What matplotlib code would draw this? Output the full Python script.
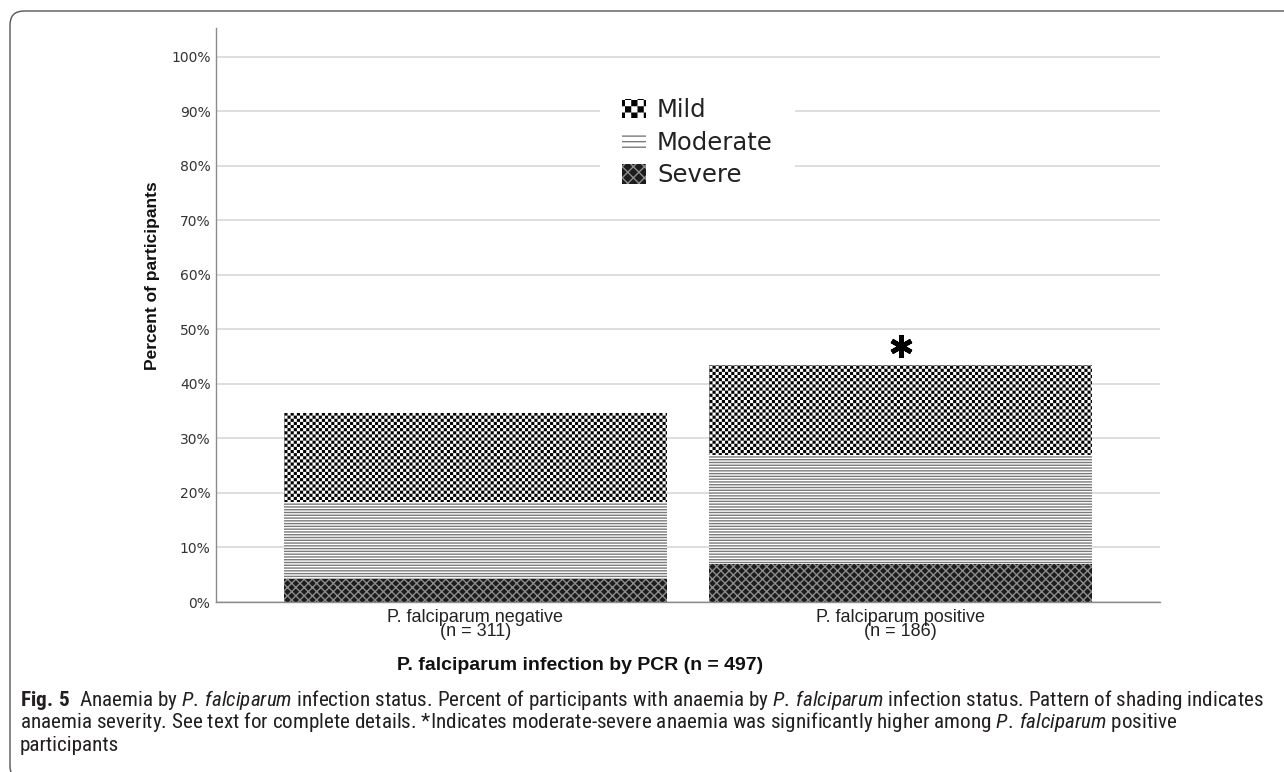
import matplotlib

matplotlib.use("Agg")
import matplotlib.hatch as mhatch
import matplotlib.pyplot as plt
import numpy as np
from matplotlib import font_manager
from matplotlib.patches import FancyBboxPatch, Patch
from matplotlib.path import Path
from matplotlib.transforms import IdentityTransform

# --- data (percent of participants) ------------------------------------------
groups = ["P. falciparum negative\n(n = 311)", "P. falciparum positive\n(n = 186)"]
severe = [4.2, 7.0]
moderate = [14.1, 19.9]
mild = [16.4, 16.6]
legend_labels = ["Mild", "Moderate", "Severe"]
yticks = list(range(0, 101, 10))
star_group = 1  # moderate-severe significantly higher here

W, H = 1284, 772
HATCH_LW = 1.0


def pick(*names):
    avail = {f.name for f in font_manager.fontManager.ttflist}
    for n in names:
        if n in avail:
            return n
    return "DejaVu Sans"


CAPTION_FONT = pick("Liberation Sans Narrow", "DejaVu Sans Condensed", "Roboto Condensed")
ARIAL = pick("Liberation Sans", "Arial")


class CheckerHatch(mhatch.HatchPatternBase):
    """'*' re-used as a checkerboard: 8 cells per inch for each '*'."""

    def __init__(self, hatch, density):
        self.n = hatch.count("*") * 8
        self.num_vertices = (self.n * self.n // 2) * 5

    def set_vertices_and_codes(self, vertices, codes):
        n = self.n
        step = 1.0 / n
        inset = 0.5 * HATCH_LW / 72.0
        ii, jj = np.meshgrid(np.arange(n), np.arange(n), indexing="ij")
        mask = (ii + jj) % 2 == 0
        ll = np.stack([ii[mask] * step + inset, jj[mask] * step + inset], axis=1)
        sq = np.array([[0, 0], [1, 0], [1, 1], [0, 1], [0, 0]], dtype=float)
        verts = ll[:, None, :] + sq[None] * (step - 2 * inset)
        vertices[:] = verts.reshape(-1, 2)
        one = [Path.MOVETO, Path.LINETO, Path.LINETO, Path.LINETO, Path.CLOSEPOLY]
        codes[:] = np.tile(one, len(ll))


mhatch._hatch_types = [t for t in mhatch._hatch_types if t is not mhatch.Stars] + [CheckerHatch]

plt.rcParams["hatch.linewidth"] = HATCH_LW
plt.rcParams["mathtext.fontset"] = "custom"
plt.rcParams["mathtext.rm"] = CAPTION_FONT
plt.rcParams["mathtext.it"] = f"{CAPTION_FONT}:italic"
plt.rcParams["mathtext.bf"] = f"{CAPTION_FONT}:bold"

styles = {
    "Severe": dict(facecolor="#1c1c1c", edgecolor="#8c8c8c", hatch="xxxx"),
    "Moderate": dict(facecolor="white", edgecolor="#7a7a7a", hatch="------"),
    "Mild": dict(facecolor="white", edgecolor="black", hatch="****"),
}
legend_hatch = {"Severe": "xxx", "Moderate": "---", "Mild": "**"}

fig = plt.figure(figsize=(W / 100, H / 100), dpi=100)
ax = fig.add_axes([216 / W, (H - 602) / H, (1160 - 216) / W, (602 - 28) / H])

x = np.arange(len(groups))
bottom = np.zeros(len(groups))
for name, vals in [("Severe", severe), ("Moderate", moderate), ("Mild", mild)]:
    ax.bar(x, vals, width=0.9, bottom=bottom, linewidth=0, **styles[name], zorder=2)
    bottom = bottom + np.array(vals)

ax.plot(star_group, bottom[star_group] + 3.4, marker=(6, 2, 0), markersize=16,
        markeredgewidth=3.4, color="black", linestyle="none", zorder=3)

ax.set_xlim(-0.61, 1.61)
ax.set_ylim(0, 105.3)
ax.set_yticks(yticks)
ax.set_yticklabels([f"{v}%" for v in yticks], fontsize=10, color="#333333",
                   fontfamily="DejaVu Sans")
ax.set_xticks(x)
ax.set_xticklabels(groups, fontsize=13, fontfamily=ARIAL, color="#222222",
                   linespacing=0.8)
ax.tick_params(length=0, pad=4)
ax.tick_params(axis="x", pad=5)
ax.yaxis.grid(True, color="#d4d4d4", linewidth=1.1, zorder=0)
ax.set_axisbelow(True)
for side in ("top", "right"):
    ax.spines[side].set_visible(False)
for side in ("left", "bottom"):
    ax.spines[side].set_color("#8c8c8c")
    ax.spines[side].set_linewidth(1.0)

fig.text(152 / W, 1 - 276 / H, "Percent of participants", rotation=90,
         ha="center", va="center", fontsize=12.5, fontweight="bold",
         fontfamily=ARIAL, color="#111111")
fig.text(580 / W, 1 - 665 / H, "P. falciparum infection by PCR (n = 497)",
         ha="center", va="center", fontsize=14, fontweight="bold",
         fontfamily=ARIAL, color="#111111")

handles = [Patch(facecolor=styles[n]["facecolor"], edgecolor=styles[n]["edgecolor"],
                 hatch=legend_hatch[n], linewidth=0) for n in legend_labels]
leg = ax.legend(handles, legend_labels, loc="upper left",
                bbox_to_anchor=(600 / W, 1 - 76 / H), bbox_transform=fig.transFigure,
                borderaxespad=0, borderpad=0.9, frameon=True, fancybox=False,
                framealpha=1, handlelength=1.0, handleheight=0.85,
                handletextpad=0.45, labelspacing=0.36,
                prop={"family": "DejaVu Sans", "size": 17.5})
leg.get_frame().set_edgecolor("none")
leg.get_frame().set_facecolor("white")
for t in leg.get_texts():
    t.set_color("#222222")

# caption
cap_lines = [
    r"$\mathbf{Fig.\:5}$  Anaemia by $\mathit{P.\:falciparum}$ infection status. "
    r"Percent of participants with anaemia by $\mathit{P.\:falciparum}$ infection status. "
    r"Pattern of shading indicates",
    r"anaemia severity. See text for complete details. *Indicates moderate-severe anaemia "
    r"was significantly higher among $\mathit{P.\:falciparum}$ positive",
    "participants",
]
for i, line in enumerate(cap_lines):
    fig.text(20 / W, 1 - (706 + 22.5 * i) / H, line, ha="left", va="baseline",
             fontsize=15.2, fontfamily=CAPTION_FONT, color="#231f20")

frame = FancyBboxPatch((10, -8), 1300, H - 11 + 8,
                       boxstyle="round,pad=0,rounding_size=14",
                       transform=IdentityTransform(), facecolor="none",
                       edgecolor="#555555", linewidth=1.0)
fig.add_artist(frame)

fig.savefig("out.png", dpi=100)
